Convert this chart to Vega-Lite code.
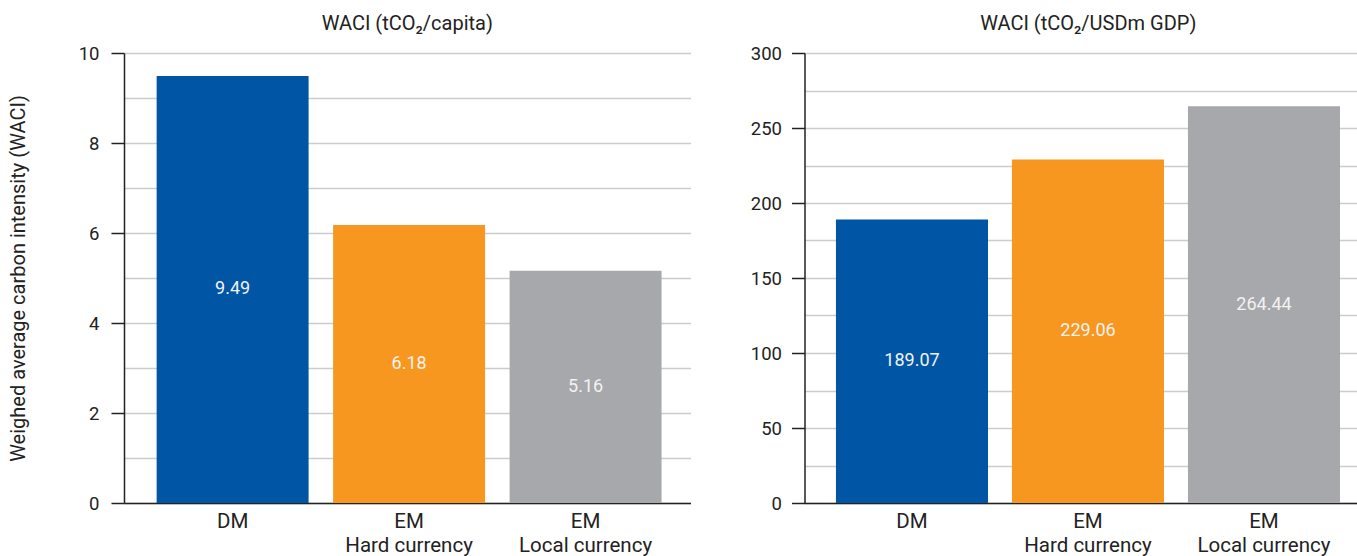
{
  "$schema": "https://vega.github.io/schema/vega-lite/v6.json",
  "background": "white",
  "padding": {"left": 8, "top": 14, "right": 0, "bottom": 0},
  "spacing": 113.5,
  "bounds": "flush",
  "config": {
    "font": "Roboto",
    "view": {"stroke": null},
    "axis": {
      "labelFont": "Roboto",
      "labelColor": "#222222",
      "labelFontSize": 18.5,
      "titleFont": "Roboto",
      "titleColor": "#222222",
      "titleFontWeight": "normal",
      "titleFontSize": 20,
      "domainColor": "#222222",
      "domainWidth": 1.5,
      "tickColor": "#222222",
      "tickWidth": 1.5,
      "gridColor": "#cccccc",
      "gridWidth": 1.5
    },
    "title": {"font": "Roboto", "fontSize": 20, "fontWeight": "normal", "color": "#222222", "frame": "group", "offset": 10}
  },
  "hconcat": [
    {
      "width": 566.5,
      "height": 450,
      "title": {"text": "WACI (tCO₂/capita)"},
      "data": {"values": [
        {"category": "DM", "value": 9.49},
        {"category": "EM|Hard currency", "value": 6.18},
        {"category": "EM|Local currency", "value": 5.16}
      ]},
      "encoding": {
        "x": {
          "field": "category", "type": "nominal", "sort": null,
          "scale": {"paddingInner": 0.139, "paddingOuter": 0.1745, "align": 0.53},
          "axis": {"title": null, "labelAngle": 0, "labelExpr": "split(datum.label, '|')", "labelFontSize": 20.5, "labelLineHeight": 24, "labelPadding": 8, "labelBaseline": "top", "ticks": false}
        }
      },
      "layer": [
        {
          "mark": {"type": "bar"},
          "encoding": {
            "y": {
              "field": "value", "type": "quantitative",
              "scale": {"domain": [0, 10], "nice": false},
              "axis": {
                "title": "Weighed average carbon intensity (WACI)",
                "values": [0, 1, 2, 3, 4, 5, 6, 7, 8, 9, 10],
                "labelExpr": "datum.value % 2 === 0 ? datum.label : ''",
                "tickOpacity": {"condition": {"test": "datum.value % 2 === 0", "value": 1}, "value": 0},
                "grid": true,
                "tickSize": 13,
                "labelPadding": 12,
                "titlePadding": 49.5
              }
            },
            "color": {
              "field": "category", "type": "nominal", "legend": null,
              "scale": {"domain": ["DM", "EM|Hard currency", "EM|Local currency"], "range": ["#0055A5", "#F7971F", "#A7A8AB"]}
            }
          }
        },
        {
          "mark": {"type": "text", "color": "#f2f2f2", "fontSize": 18, "baseline": "middle", "align": "center"},
          "encoding": {
            "y": {"field": "value", "type": "quantitative", "scale": {"domain": [0, 20], "nice": false}, "axis": null},
            "text": {"field": "value", "type": "quantitative", "format": ".2f"}
          }
        }
      ],
      "resolve": {"scale": {"y": "independent"}}
    },
    {
      "width": 553.5,
      "height": 450,
      "title": {"text": "WACI (tCO₂/USDm GDP)", "dx": 7},
      "data": {"values": [
        {"category": "DM", "value": 189.07},
        {"category": "EM|Hard currency", "value": 229.06},
        {"category": "EM|Local currency", "value": 264.44}
      ]},
      "encoding": {
        "x": {
          "field": "category", "type": "nominal", "sort": null,
          "scale": {"paddingInner": 0.136, "paddingOuter": 0.1405, "align": 0.636},
          "axis": {"title": null, "labelAngle": 0, "labelExpr": "split(datum.label, '|')", "labelFontSize": 20.5, "labelLineHeight": 24, "labelPadding": 8, "labelBaseline": "top", "ticks": false}
        }
      },
      "layer": [
        {
          "mark": {"type": "bar"},
          "encoding": {
            "y": {
              "field": "value", "type": "quantitative",
              "scale": {"domain": [0, 300], "nice": false},
              "axis": {
                "title": null,
                "values": [0, 25, 50, 75, 100, 125, 150, 175, 200, 225, 250, 275, 300],
                "labelExpr": "datum.value % 50 === 0 ? datum.label : ''",
                "tickOpacity": {"condition": {"test": "datum.value % 50 === 0", "value": 1}, "value": 0},
                "grid": true,
                "tickSize": 13,
                "labelPadding": 10
              }
            },
            "color": {
              "field": "category", "type": "nominal", "legend": null,
              "scale": {"domain": ["DM", "EM|Hard currency", "EM|Local currency"], "range": ["#0055A5", "#F7971F", "#A7A8AB"]}
            }
          }
        },
        {
          "mark": {"type": "text", "color": "#f2f2f2", "fontSize": 18, "baseline": "middle", "align": "center"},
          "encoding": {
            "y": {"field": "value", "type": "quantitative", "scale": {"domain": [0, 600], "nice": false}, "axis": null},
            "text": {"field": "value", "type": "quantitative", "format": ".2f"}
          }
        }
      ],
      "resolve": {"scale": {"y": "independent"}}
    }
  ]
}
